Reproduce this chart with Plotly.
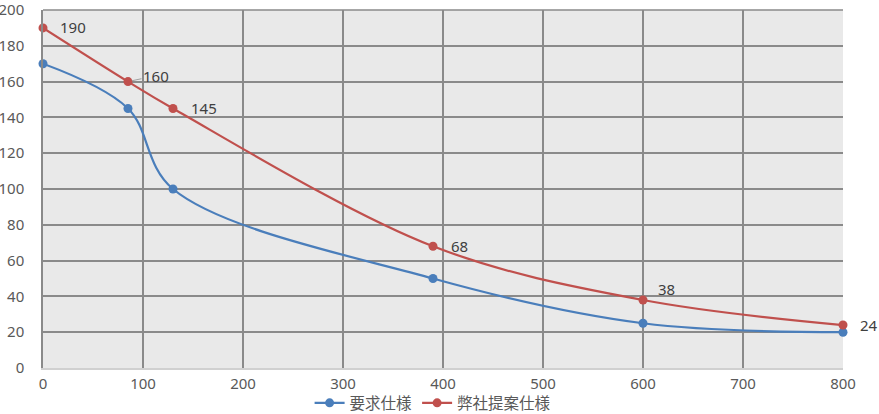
import plotly.graph_objects as go

x_req = [0, 85, 130, 390, 600, 800]
y_req = [170, 145, 100, 50, 25, 20]
x_prop = [0, 85, 130, 390, 600, 800]
y_prop = [190, 160, 145, 68, 38, 24]
label_prop = ["190", "160", "145", "68", "38", "24"]
name_req = "要求仕様"
name_prop = "弊社提案仕様"

label_dx = [15, 15, 16, 16, 13, 15]
label_dy = [1, 6, 0, 0, 11, 0]
label_arrow = [False, True, False, False, False, False]

FONT = "Noto Sans, Noto Sans CJK JP, sans-serif"
BLUE = "#4a7ebb"
RED = "#c0504d"
GRID = "#8a8a8a"

fig = go.Figure()
fig.add_trace(go.Scatter(x=x_req, y=y_req, name=name_req, mode="lines+markers",
                         line=dict(color=BLUE, width=2.2, shape="spline", smoothing=1.0),
                         marker=dict(color=BLUE, size=9), cliponaxis=False))
fig.add_trace(go.Scatter(x=x_prop, y=y_prop, name=name_prop, mode="lines+markers",
                         line=dict(color=RED, width=2.2, shape="spline", smoothing=1.0),
                         marker=dict(color=RED, size=9), cliponaxis=False))

for xv, yv, t, dx, dy, arr in zip(x_prop, y_prop, label_prop, label_dx, label_dy, label_arrow):
    if arr:
        fig.add_annotation(x=xv, y=yv, text=t, showarrow=True, arrowhead=0, arrowwidth=1,
                           arrowcolor="#a0a0a0", ax=dx + 13, ay=-dy, standoff=4,
                           font=dict(family=FONT, size=15, color="#404040"))
    else:
        fig.add_annotation(x=xv, y=yv, text=t, showarrow=False, xanchor="left",
                           xshift=dx, yshift=dy, font=dict(family=FONT, size=15, color="#404040"))

# top border of the plot area
fig.add_shape(type="line", xref="x domain", yref="y domain", x0=0, x1=1, y0=1, y1=1,
              line=dict(color=GRID, width=1.5), layer="above")

fig.update_layout(
    width=879, height=414,
    margin=dict(l=43, r=36, t=10, b=46, autoexpand=False),
    paper_bgcolor="white", plot_bgcolor="#e9e9e9",
    font=dict(family=FONT, size=15, color="#595959"),
    showlegend=True,
    legend=dict(orientation="h", x=0.487, xanchor="center", yref="container",
                y=0.026, yanchor="middle", bgcolor="rgba(0,0,0,0)",
                font=dict(family=FONT, size=15.5, color="#595959"), itemwidth=30),
)
fig.update_xaxes(range=[0, 800], dtick=100, showgrid=True, gridcolor=GRID, gridwidth=1.5,
                 zeroline=False, showline=True, linecolor="#d0d0d0", linewidth=2,
                 ticklabelstandoff=1, fixedrange=True, automargin=False,
                 ticklabeloverflow="allow")
fig.update_yaxes(range=[0, 200], dtick=20, showgrid=True, gridcolor=GRID, gridwidth=1.5,
                 zeroline=False, showline=True, linecolor=GRID, linewidth=1.5,
                 ticklabelstandoff=14, fixedrange=True,
                 automargin=False, ticklabeloverflow="allow")

fig.write_html("out.html", config={"displayModeBar": False},
               post_script="document.body.style.margin='0';document.body.style.overflow='hidden';")
